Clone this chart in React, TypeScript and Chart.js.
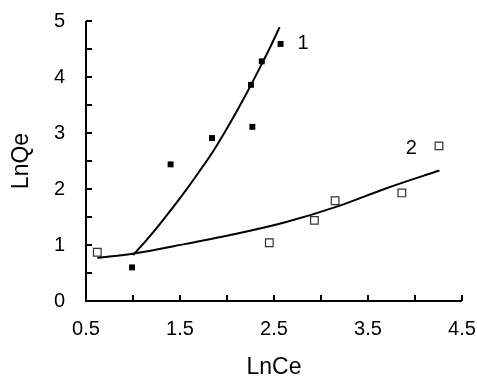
import React, { useEffect, useRef } from "react";
import { Chart, registerables } from "chart.js";

Chart.register(...registerables);

// Series 1 (filled squares)
const s1X = [0.99, 1.40, 1.84, 2.27, 2.255, 2.37, 2.57];
const s1Y = [0.60, 2.44, 2.91, 3.11, 3.86, 4.28, 4.59];
// Series 2 (open squares)
const s2X = [0.62, 2.45, 2.93, 3.15, 3.86, 4.255];
const s2Y = [0.87, 1.04, 1.44, 1.79, 1.93, 2.77];
// Fitted curve 1
const c1X = [1.00, 1.13, 1.27, 1.41, 1.55, 1.70, 1.87, 2.03, 2.18, 2.33, 2.45, 2.56];
const c1Y = [0.82, 1.06, 1.34, 1.64, 1.95, 2.30, 2.72, 3.17, 3.62, 4.10, 4.50, 4.89];
// Fitted curve 2
const c2X = [0.62, 1.01, 1.56, 2.10, 2.63, 3.16, 3.69, 4.26];
const c2Y = [0.77, 0.85, 1.02, 1.20, 1.41, 1.68, 2.01, 2.33];
// Curve labels
const labelTexts = ["1", "2"];
const labelX = [2.81, 3.96];
const labelY = [4.6, 2.73];

const xMin = 0.5, xMax = 4.5, xStep = 0.5;
const yMin = 0, yMax = 5, yStep = 0.5;

const pts = (xs: number[], ys: number[]) => xs.map((x, i) => ({ x, y: ys[i] }));

const axesPlugin = {
  id: "customAxes",
  afterDraw(chart: any) {
    const { ctx, scales } = chart;
    const xs = scales.x, ys = scales.y;
    const x0 = xs.getPixelForValue(xMin), x1 = xs.getPixelForValue(xMax);
    const y0 = ys.getPixelForValue(yMin), y1 = ys.getPixelForValue(yMax);
    ctx.save();
    ctx.strokeStyle = "#000";
    ctx.lineWidth = 2;
    ctx.beginPath();
    ctx.moveTo(x0, y1);
    ctx.lineTo(x0, y0);
    ctx.lineTo(x1, y0);
    ctx.stroke();
    const tl = 6;
    ctx.beginPath();
    xs.ticks.forEach((t: any) => {
      const px = xs.getPixelForValue(t.value);
      if (Math.abs(t.value - xMin) < 1e-6) return;
      ctx.moveTo(px, y0);
      ctx.lineTo(px, y0 - tl);
    });
    ys.ticks.forEach((t: any) => {
      const py = ys.getPixelForValue(t.value);
      if (Math.abs(t.value - yMin) < 1e-6) return;
      ctx.moveTo(x0, py);
      ctx.lineTo(x0 + tl, py);
    });
    ctx.stroke();
    ctx.fillStyle = "#000";
    ctx.font = "20px 'Liberation Sans', Arial, sans-serif";
    ctx.textAlign = "center";
    ctx.textBaseline = "middle";
    labelTexts.forEach((s, i) => {
      ctx.fillText(s, xs.getPixelForValue(labelX[i]), ys.getPixelForValue(labelY[i]));
    });
    ctx.restore();
  },
};

const zeroPad = (s: any) => {
  s.paddingLeft = 0;
  s.paddingRight = 0;
  s.paddingTop = 0;
  s.paddingBottom = 0;
};

export default function App() {
  const ref = useRef<HTMLCanvasElement>(null);
  useEffect(() => {
    if (!ref.current) return;
    const font = "'Liberation Sans', Arial, sans-serif";
    const chart = new Chart(ref.current, {
      type: "scatter",
      data: {
        datasets: [
          {
            label: "curve1",
            data: pts(c1X, c1Y),
            showLine: true,
            borderColor: "#000",
            borderWidth: 2,
            pointRadius: 0,
            cubicInterpolationMode: "monotone",
          },
          {
            label: "curve2",
            data: pts(c2X, c2Y),
            showLine: true,
            borderColor: "#000",
            borderWidth: 2,
            pointRadius: 0,
            cubicInterpolationMode: "monotone",
          },
          {
            label: "1",
            data: pts(s1X, s1Y),
            pointStyle: "rect",
            pointRadius: 4.2,
            backgroundColor: "#000",
            borderColor: "#000",
            borderWidth: 0,
          },
          {
            label: "2",
            data: pts(s2X, s2Y),
            pointStyle: "rect",
            pointRadius: 5.4,
            backgroundColor: "#fff",
            borderColor: "#333",
            borderWidth: 1.2,
          },
        ],
      } as any,
      options: {
        responsive: false,
        animation: false,
        layout: { padding: { top: 21, right: 15, left: 0, bottom: 0 } },
        plugins: { legend: { display: false }, tooltip: { enabled: false } },
        scales: {
          x: {
            type: "linear",
            min: xMin,
            max: xMax,
            grid: { display: false },
            border: { display: false },
            ticks: {
              stepSize: xStep,
              autoSkip: false,
              maxRotation: 0,
              padding: 8,
              color: "#000",
              font: { family: font, size: 20 },
              callback: (v: any) => {
                const n = Number(v);
                return Math.abs(((n - 0.5) % 1 + 1) % 1) < 1e-6 ? n.toFixed(1) : "";
              },
            },
            title: {
              display: true,
              text: "LnCe",
              color: "#000",
              font: { family: font, size: 23, lineHeight: 1 },
              padding: { top: 0, bottom: -1 },
            },
            afterFit: (s: any) => {
              s.height = 77;
              zeroPad(s);
            },
          },
          y: {
            type: "linear",
            min: yMin,
            max: yMax,
            grid: { display: false },
            border: { display: false },
            ticks: {
              stepSize: yStep,
              autoSkip: false,
              padding: 13,
              color: "#000",
              font: { family: font, size: 20 },
              callback: (v: any) => {
                const n = Number(v);
                return Number.isInteger(n) ? String(n) : "";
              },
            },
            title: {
              display: true,
              text: "LnQe",
              color: "#000",
              font: { family: font, size: 23, lineHeight: 1 },
              padding: { top: 10, bottom: 0 },
            },
            afterFit: (s: any) => {
              s.width = 86;
              zeroPad(s);
            },
          },
        },
      } as any,
      plugins: [axesPlugin],
    });
    return () => chart.destroy();
  }, []);
  return (
    <div style={{ position: "absolute", left: 0, top: 0, width: 477, height: 378, background: "#fff" }}>
      <canvas ref={ref} width={477} height={378} style={{ display: "block" }} />
    </div>
  );
}
